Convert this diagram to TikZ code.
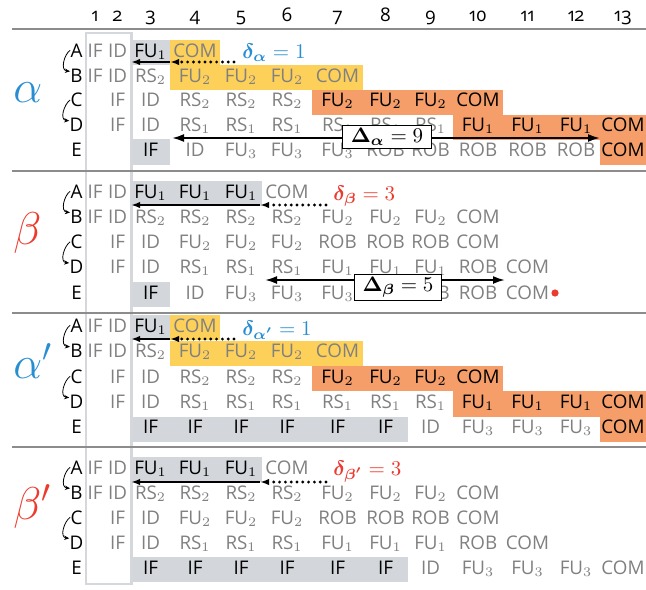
\documentclass[tikz,border=0pt]{standalone}
\usepackage{fix-cm}
\usepackage{bm}
\usepackage[no-math]{fontspec}
\newfontfamily\cellfont{Open Sans}[Numbers=OldStyle]
\usetikzlibrary{arrows.meta}

\definecolor{txtgray}{RGB}{128,128,128}
\definecolor{hlgray}{RGB}{211,215,219}
\definecolor{hlyellow}{RGB}{253,208,90}
\definecolor{hlorange}{RGB}{245,158,106}
\definecolor{rulegray}{RGB}{140,140,140}
\definecolor{framegray}{RGB}{212,216,220}
\definecolor{alphablue}{RGB}{40,142,210}
\definecolor{betared}{RGB}{236,58,46}
\colorlet{tg}{txtgray}
\colorlet{tk}{black}

% column centre, left edge, right edge
\newcommand\setcol[4]{%
  \expandafter\def\csname cx#1\endcsname{#2}%
  \expandafter\def\csname cl#1\endcsname{#3}%
  \expandafter\def\csname cr#1\endcsname{#4}}
\setcol{1}{95}{86}{106}
\setcol{2}{117.5}{106}{131}
\setcol{3}{150.5}{131}{170}
\setcol{4}{195}{170}{220}
\setcol{5}{241}{220}{262}
\setcol{6}{287}{262}{312}
\setcol{7}{337.5}{312}{363}
\setcol{8}{385.5}{363}{408}
\setcol{9}{430.5}{408}{453}
\setcol{10}{478}{453}{503}
\setcol{11}{527.5}{503}{552}
\setcol{12}{576}{552}{600}
\setcol{13}{623}{600}{646}

% one row of stage entries: name prefix, row top, list col/text/colour
\newcommand\cells[3]{%
  \foreach \cc/\txt/\tcol in {#3}{%
    \node[cell, text=\tcol] (#1-\cc) at (\csname cx\cc\endcsname, #2+17) {\txt};
  }}
% highlighted span of columns in a row: colour, first col, last col, row top
\newcommand\hlbox[4]{%
  \fill[#1] (\csname cl#2\endcsname, #4) rectangle (\csname cr#3\endcsname, #4+25.2);}
% instruction letters with the two dependency hooks
\newcommand\rowtags[6]{%
  \node[lbl] (#1A) at (76.5,#2+17) {A};
  \node[lbl] (#1B) at (76.5,#3+17) {B};
  \node[lbl] (#1C) at (76.5,#4+17) {C};
  \node[lbl] (#1D) at (76.5,#5+17) {D};
  \node[lbl] (#1E) at (76.5,#6+17) {E};
  \draw[tie] (#1A.west) .. controls +(-6,4) and +(-10,-1) .. ([yshift=2pt]#1B.west);
  \draw[tie] (#1C.west) .. controls +(-6,4) and +(-10,-1) .. ([yshift=2pt]#1D.west);
}

\tikzset{
  cell/.style={anchor=base, inner sep=0pt, font=\cellfont\fontsize{9.4}{11}\selectfont},
  lbl/.style={cell, text=black},
  greek/.style={anchor=base west, inner sep=0pt, font=\fontsize{23}{23}\selectfont},
  sep/.style={draw=rulegray, line width=1.25pt},
  frame/.style={draw=framegray, line width=1.2pt},
  tie/.style={-{Stealth[length=2.6pt,width=2.2pt]}, line width=0.4pt},
  hold/.style={-{Latex[length=4.5pt,width=3.2pt]}, line width=1.1pt},
  lag/.style={-{Latex[length=4.5pt,width=3.2pt]}, line width=1.6pt,
              dash pattern=on 0pt off 2.9pt, line cap=round},
  span/.style={{Latex[length=6pt,width=4pt]}-{Latex[length=6pt,width=4pt]}, line width=1pt},
  dbox/.style={draw, fill=white, line width=0.5pt, inner xsep=4pt, inner ysep=1.2pt,
               font=\fontsize{10.5}{12}\selectfont},
  dlab/.style={anchor=base west, inner sep=0pt, font=\fontsize{10.5}{12}\selectfont},
}

\begin{document}
\begin{tikzpicture}[x=0.5pt,y=-0.5pt]
\useasboundingbox (0,0) rectangle (646,589);

% ---- highlighted stages ----
% alpha
\hlbox{hlgray}{3}{3}{40}
\hlbox{hlyellow}{4}{4}{40}
\hlbox{hlyellow}{4}{7}{65}
\hlbox{hlorange}{7}{10}{89.7}
\hlbox{hlorange}{10}{13}{114.5}
\hlbox{hlgray}{3}{3}{139.3}
\hlbox{hlorange}{13}{13}{139.3}
% beta
\hlbox{hlgray}{3}{5}{181}
\hlbox{hlgray}{3}{3}{282}
% alpha'
\hlbox{hlgray}{3}{3}{315}
\hlbox{hlyellow}{4}{4}{315}
\hlbox{hlyellow}{4}{7}{340.5}
\hlbox{hlorange}{7}{10}{366}
\hlbox{hlorange}{10}{13}{391.3}
\hlbox{hlgray}{3}{8}{416.7}
\hlbox{hlorange}{13}{13}{416.7}
% beta'
\hlbox{hlgray}{3}{5}{457}
\hlbox{hlgray}{3}{8}{557}

% ---- frame round the first two cycles ----
\draw[frame] (86,33) rectangle (131.5,584);

% ---- block separators ----
\foreach \yy in {29,171,313,447} \draw[sep] (12,\yy) -- (646,\yy);

% ---- cycle numbers ----
\foreach \cc in {1,...,13}
  \node[cell, text=black] (h\cc) at (\csname cx\cc\endcsname, 21) {\cc};

% ---- block labels ----
\node[greek, text=alphablue] (galpha) at (13,102) {$\alpha$};
\node[greek, text=betared]   (gbeta)  at (13,244) {$\beta$};
\node[greek, text=alphablue] (galphap) at (13,378) {$\alpha'$};
\node[greek, text=betared]   (gbetap)  at (13,519) {$\beta'$};

% ---- alpha ----
\rowtags{a}{40}{65}{89.7}{114.5}{139.3}
\cells{aA}{40}{1/IF/tg,2/ID/tg,3/FU$_1$/tk,4/COM/tg}
\cells{aB}{65}{1/IF/tg,2/ID/tg,3/RS$_2$/tg,4/FU$_2$/tg,5/FU$_2$/tg,6/FU$_2$/tg,7/COM/tg}
\cells{aC}{89.7}{2/IF/tg,3/ID/tg,4/RS$_2$/tg,5/RS$_2$/tg,6/RS$_2$/tg,7/FU$_2$/tk,8/FU$_2$/tk,9/FU$_2$/tk,10/COM/tk}
\cells{aD}{114.5}{2/IF/tg,3/ID/tg,4/RS$_1$/tg,5/RS$_1$/tg,6/RS$_1$/tg,7/RS$_1$/tg,8/RS$_1$/tg,9/RS$_1$/tg,10/FU$_1$/tk,11/FU$_1$/tk,12/FU$_1$/tk,13/COM/tk}
\cells{aE}{139.3}{3/IF/tk,4/ID/tg,5/FU$_3$/tg,6/FU$_3$/tg,7/FU$_3$/tg,8/ROB/tg,9/ROB/tg,10/ROB/tg,11/ROB/tg,12/ROB/tg,13/COM/tk}

\coordinate (aL1) at (131,62);
\coordinate (aL2) at (170,62);
\coordinate (aL3) at (234,62);
\draw[hold] (aL2) -- (aL1);
\draw[lag] (aL3) -- (aL2);
\node[dlab, text=alphablue] (adelta) at (242,58) {$\bm{\delta_\alpha} = 1$};

\coordinate (aS1) at (172,138);
\coordinate (aS2) at (600,138);
\draw[span] (aS1) -- (aS2);
\node[dbox] (aspan) at (387,137) {$\bm{\Delta}_{\bm{\alpha}} = 9$};

% ---- beta ----
\rowtags{b}{181}{206.2}{231.5}{256.7}{282}
\cells{bA}{181}{1/IF/tg,2/ID/tg,3/FU$_1$/tk,4/FU$_1$/tk,5/FU$_1$/tk,6/COM/tg}
\cells{bB}{206.2}{1/IF/tg,2/ID/tg,3/RS$_2$/tg,4/RS$_2$/tg,5/RS$_2$/tg,6/RS$_2$/tg,7/FU$_2$/tg,8/FU$_2$/tg,9/FU$_2$/tg,10/COM/tg}
\cells{bC}{231.5}{2/IF/tg,3/ID/tg,4/FU$_2$/tg,5/FU$_2$/tg,6/FU$_2$/tg,7/ROB/tg,8/ROB/tg,9/ROB/tg,10/COM/tg}
\cells{bD}{256.7}{2/IF/tg,3/ID/tg,4/RS$_1$/tg,5/RS$_1$/tg,6/RS$_1$/tg,7/FU$_1$/tg,8/FU$_1$/tg,9/FU$_1$/tg,10/ROB/tg,11/COM/tg}
\cells{bE}{282}{3/IF/tk,4/ID/tg,5/FU$_3$/tg,6/FU$_3$/tg,7/FU$_3$/tg,8/ROB/tg,9/ROB/tg,10/ROB/tg,11/COM/tg}
\node[circle, fill=betared, inner sep=0pt, minimum size=3.6pt] (bdot) at (555,293) {};

\coordinate (bL1) at (131,205);
\coordinate (bL2) at (260,205);
\coordinate (bL3) at (326,205);
\draw[hold] (bL2) -- (bL1);
\draw[lag] (bL3) -- (bL2);
\node[dlab, text=betared] (bdelta) at (333,200) {$\bm{\delta_\beta} = 3$};

\coordinate (bS1) at (265,280);
\coordinate (bS2) at (505,280);
\draw[span] (bS1) -- (bS2);
\node[dbox] (bspan) at (398,287.5) {$\bm{\Delta}_{\bm{\beta}} = 5$};

% ---- alpha' ----
\rowtags{c}{315}{340.5}{366}{391.3}{416.7}
\cells{cA}{315}{1/IF/tg,2/ID/tg,3/FU$_1$/tk,4/COM/tg}
\cells{cB}{340.5}{1/IF/tg,2/ID/tg,3/RS$_2$/tg,4/FU$_2$/tg,5/FU$_2$/tg,6/FU$_2$/tg,7/COM/tg}
\cells{cC}{366}{2/IF/tg,3/ID/tg,4/RS$_2$/tg,5/RS$_2$/tg,6/RS$_2$/tg,7/FU$_2$/tk,8/FU$_2$/tk,9/FU$_2$/tk,10/COM/tk}
\cells{cD}{391.3}{2/IF/tg,3/ID/tg,4/RS$_1$/tg,5/RS$_1$/tg,6/RS$_1$/tg,7/RS$_1$/tg,8/RS$_1$/tg,9/RS$_1$/tg,10/FU$_1$/tk,11/FU$_1$/tk,12/FU$_1$/tk,13/COM/tk}
\cells{cE}{416.7}{3/IF/tk,4/IF/tk,5/IF/tk,6/IF/tk,7/IF/tk,8/IF/tk,9/ID/tg,10/FU$_3$/tg,11/FU$_3$/tg,12/FU$_3$/tg,13/COM/tk}

\coordinate (cL1) at (131,339);
\coordinate (cL2) at (170,339);
\coordinate (cL3) at (234,339);
\draw[hold] (cL2) -- (cL1);
\draw[lag] (cL3) -- (cL2);
\node[dlab, text=alphablue] (cdelta) at (242,335) {$\bm{\delta_{\alpha'}} = 1$};

% ---- beta' ----
\rowtags{d}{457}{482}{507}{532}{557}
\cells{dA}{457}{1/IF/tg,2/ID/tg,3/FU$_1$/tk,4/FU$_1$/tk,5/FU$_1$/tk,6/COM/tg}
\cells{dB}{482}{1/IF/tg,2/ID/tg,3/RS$_2$/tg,4/RS$_2$/tg,5/RS$_2$/tg,6/RS$_2$/tg,7/FU$_2$/tg,8/FU$_2$/tg,9/FU$_2$/tg,10/COM/tg}
\cells{dC}{507}{2/IF/tg,3/ID/tg,4/FU$_2$/tg,5/FU$_2$/tg,6/FU$_2$/tg,7/ROB/tg,8/ROB/tg,9/ROB/tg,10/COM/tg}
\cells{dD}{532}{2/IF/tg,3/ID/tg,4/RS$_1$/tg,5/RS$_1$/tg,6/RS$_1$/tg,7/FU$_1$/tg,8/FU$_1$/tg,9/FU$_1$/tg,10/ROB/tg,11/COM/tg}
\cells{dE}{557}{3/IF/tk,4/IF/tk,5/IF/tk,6/IF/tk,7/IF/tk,8/IF/tk,9/ID/tg,10/FU$_3$/tg,11/FU$_3$/tg,12/FU$_3$/tg,13/COM/tg}

\coordinate (dL1) at (131,482);
\coordinate (dL2) at (260,482);
\coordinate (dL3) at (326,482);
\draw[hold] (dL2) -- (dL1);
\draw[lag] (dL3) -- (dL2);
\node[dlab, text=betared] (ddelta) at (333,475) {$\bm{\delta_{\beta'}} = 3$};

\end{tikzpicture}
\end{document}
